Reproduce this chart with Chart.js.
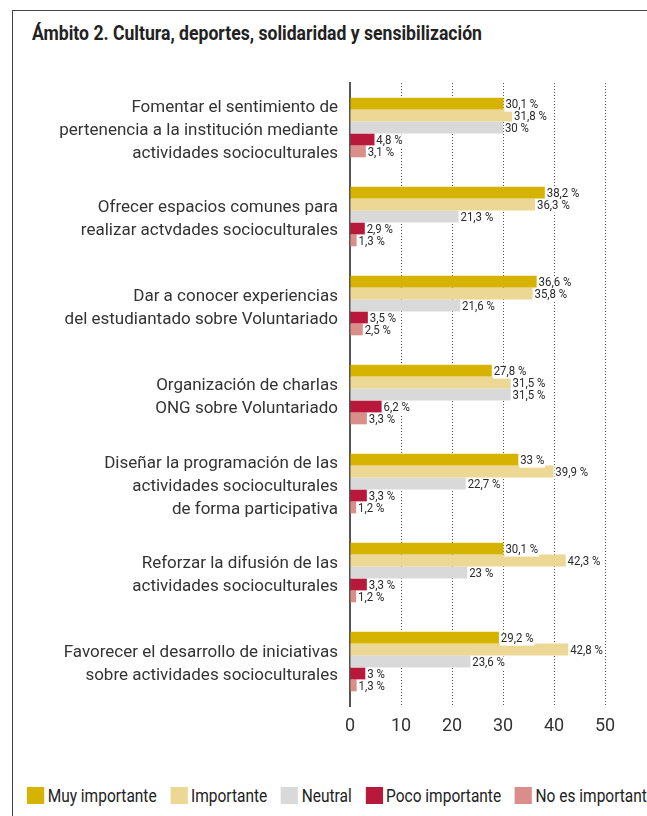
<!DOCTYPE html>
<html>
<head>
<meta charset="utf-8">
<script src="https://cdn.jsdelivr.net/npm/chart.js@4"></script>
<style>
  body { margin: 0; width: 647px; height: 816px; overflow: hidden; background: #fff; position: relative; font-family: Roboto, sans-serif; color: #333; }
  #frame { position: absolute; left: 12px; top: 10px; width: 700px; height: 900px; border: 1px solid #444; }
  #title { position: absolute; left: 32px; top: 21px; font-weight: bold; font-size: 20px; color: #222; white-space: nowrap; transform: scaleX(0.88); transform-origin: left top; }
  #wrap { position: absolute; left: 0; top: 0; width: 647px; height: 760px; }
  #legend { position: absolute; left: 27px; top: 785px; display: flex; white-space: nowrap; font-size: 18px; color: #222; transform: scaleX(0.86); transform-origin: left top; }
  #legend span.item { display: flex; align-items: center; margin-right: 16px; }
  #legend span.box { width: 20px; height: 17px; margin-right: 4px; display: inline-block; }
</style>
</head>
<body>
<div id="frame"></div>
<div id="title">Ámbito 2. Cultura, deportes, solidaridad y sensibilización</div>
<div id="wrap"><canvas id="chart"></canvas></div>
<div id="legend"></div>
<script>
const categories = [
    ['Fomentar el sentimiento de', 'pertenencia a la institución mediante', 'actividades socioculturales'],
    ['Ofrecer espacios comunes para', 'realizar actvdades socioculturales'],
    ['Dar a conocer experiencias', 'del estudiantado sobre Voluntariado'],
    ['Organización de charlas', 'ONG sobre Voluntariado'],
    ['Diseñar la programación de las', 'actividades socioculturales', 'de forma participativa'],
    ['Reforzar la difusión de las', 'actividades socioculturales'],
    ['Favorecer el desarrollo de iniciativas', 'sobre actividades socioculturales']
];

const seriesNames = ['Muy importante', 'Importante', 'Neutral', 'Poco importante', 'No es importante'];
const seriesColors = ['#D6B300', '#EDD794', '#D9D9D9', '#B8193A', '#DA8E8A'];

const muyImportante = [30.1, 38.2, 36.6, 27.8, 33, 30.1, 29.2];
const importante = [31.8, 36.3, 35.8, 31.5, 39.9, 42.3, 42.8];
const neutral = [30, 21.3, 21.6, 31.5, 22.7, 23, 23.6];
const pocoImportante = [4.8, 2.9, 3.5, 6.2, 3.3, 3.3, 3];
const noEsImportante = [3.1, 1.3, 2.5, 3.3, 1.2, 1.2, 1.3];

const xTicks = [0, 10, 20, 30, 40, 50];

const allSeries = [muyImportante, importante, neutral, pocoImportante, noEsImportante];

// legend as html so it can run off the right edge like the original
const legend = document.getElementById('legend');
seriesNames.forEach(function (name, i) {
    const item = document.createElement('span');
    item.className = 'item';
    item.innerHTML = '<span class="box" style="background:' + seriesColors[i] + '"></span>' + name;
    legend.appendChild(item);
});

const valueLabels = {
    id: 'valueLabels',
    afterDatasetsDraw(chart) {
        const ctx = chart.ctx;
        ctx.save();
        ctx.font = '13px Roboto';
        ctx.textBaseline = 'middle';
        chart.data.datasets.forEach(function (ds, i) {
            const meta = chart.getDatasetMeta(i);
            meta.data.forEach(function (bar, j) {
                const text = String(ds.data[j]).replace('.', ',') + ' %';
                const x = bar.x + 1;
                const y = bar.y + 1;
                ctx.save();
                ctx.translate(x, y);
                ctx.scale(0.88, 1);
                const w = ctx.measureText(text).width;
                ctx.fillStyle = '#fff';
                ctx.fillRect(0, -6, w + 2, 13);
                ctx.fillStyle = '#2a2a2a';
                ctx.fillText(text, 1, 0);
                ctx.restore();
            });
        });
        ctx.restore();
    }
};

const chart = new Chart(document.getElementById('chart'), {
    type: 'bar',
    data: {
        labels: categories,
        datasets: allSeries.map(function (values, i) {
            return {
                label: seriesNames[i],
                data: values,
                backgroundColor: seriesColors[i],
                categoryPercentage: 0.67,
                barPercentage: 1
            };
        })
    },
    options: {
        indexAxis: 'y',
        responsive: true,
        maintainAspectRatio: false,
        animation: false,
        layout: { padding: { top: 83, right: 42, bottom: 24, left: 0 } },
        plugins: {
            legend: { display: false },
            tooltip: { enabled: false }
        },
        scales: {
            x: {
                min: 0,
                max: 50,
                afterBuildTicks: function (scale) {
                    scale.ticks = xTicks.map(v => ({ value: v }));
                },
                afterFit: function (scale) { scale.height = 30; },
                grid: {
                    drawTicks: false,
                    color: ctx => ctx.tick && ctx.tick.value === 0 ? 'rgba(0,0,0,0)' : '#555',
                    lineWidth: 1
                },
                border: { display: false, dash: [1, 2] },
                ticks: { color: '#333', font: { family: 'Roboto', size: 18 }, padding: 10 }
            },
            y: {
                afterFit: function (scale) { scale.width = 350; },
                grid: { display: false, drawTicks: false },
                border: { display: true, color: '#555', width: 2 },
                ticks: { color: '#333', font: { family: 'Roboto', size: 17, lineHeight: 1.36 }, padding: 12, labelOffset: 3 }
            }
        }
    },
    plugins: [valueLabels]
});
</script>
</body>
</html>
